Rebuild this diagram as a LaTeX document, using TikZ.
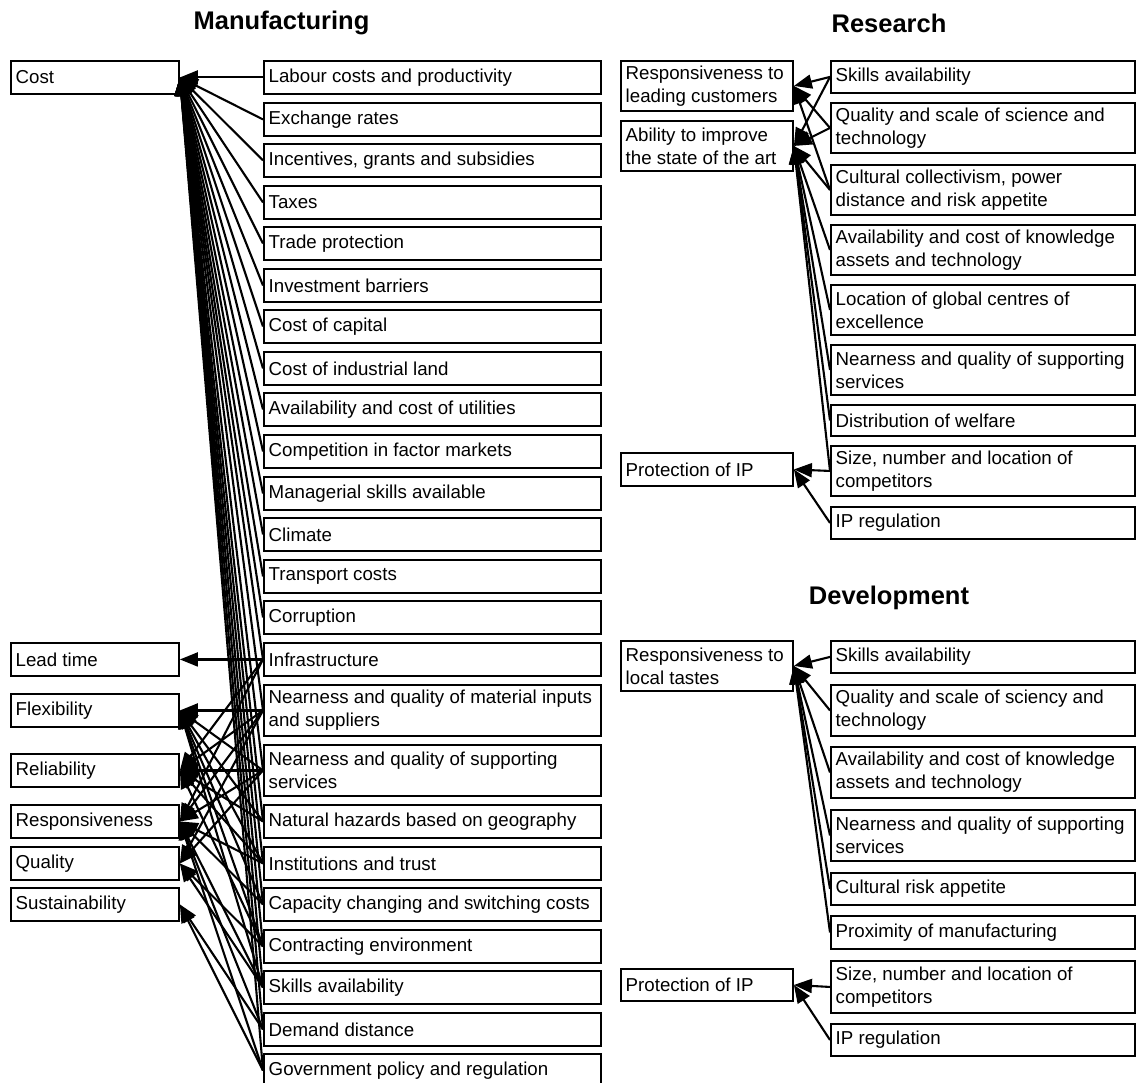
\documentclass[tikz,border=0pt]{standalone}
\usepackage{fontspec}
\setmainfont{Liberation Sans}
\usetikzlibrary{arrows.meta}
\begin{document}
\begin{tikzpicture}[x=1pt,y=-1pt,
  box/.style={draw,line width=1.9pt,inner sep=0pt,anchor=north west},
  lbl/.style={anchor=west,align=left,inner sep=0pt,font=\fontsize{18.7}{23}\selectfont},
  ttl/.style={font=\fontsize{25.5}{30}\selectfont\bfseries},
  arr/.style={line width=2.1pt,-{Triangle[length=18pt,width=14pt]}}]
\useasboundingbox (0,0) rectangle (1138,1083);
\newcommand\bx[6]{%
  \node[box,minimum width=#3pt,minimum height=#4pt] (#1) at (#2) {};
  \node[lbl] (#1-t) at ([xshift=5.5pt]#1.west) {#5};}
% titles
\node[ttl] (tm) at (281.5,23) {Manufacturing};
\node[ttl] (tr) at (889,23) {Research};
\node[ttl] (td) at (889,598) {Development};
% manufacturing left
\bx{cost}{10,60}{168}{33}{Cost}{}
\bx{lead}{10,642}{168}{33}{Lead time}{}
\bx{flex}{10,693}{168}{33}{Flexibility}{}
\bx{rel}{10,753}{168}{33}{Reliability}{}
\bx{resp}{10,804}{168}{33}{Responsiveness}{}
\bx{qual}{10,846}{168}{33}{Quality}{}
\bx{sust}{10,887}{168}{33}{Sustainability}{}
% manufacturing right
\bx{f1}{263,60}{337}{33}{Labour costs and productivity}{}
\bx{f2}{263,102}{337}{33}{Exchange rates}{}
\bx{f3}{263,143}{337}{33}{Incentives, grants and subsidies}{}
\bx{f4}{263,185}{337}{33}{Taxes}{}
\bx{f5}{263,226}{337}{33}{Trade protection}{}
\bx{f6}{263,268}{337}{33}{Investment barriers}{}
\bx{f7}{263,309}{337}{33}{Cost of capital}{}
\bx{f8}{263,351}{337}{33}{Cost of industrial land}{}
\bx{f9}{263,392}{337}{33}{Availability and cost of utilities}{}
\bx{f10}{263,434}{337}{33}{Competition in factor markets}{}
\bx{f11}{263,476}{337}{33}{Managerial skills available}{}
\bx{f12}{263,517}{337}{33}{Climate}{}
\bx{f13}{263,559}{337}{33}{Transport costs}{}
\bx{f14}{263,600}{337}{33}{Corruption}{}
\bx{f15}{263,642}{337}{33}{Infrastructure}{}
\bx{f16}{263,684}{337}{51}{Nearness and quality of material inputs\\and suppliers}{}
\bx{f17}{263,744}{337}{51}{Nearness and quality of supporting\\services}{}
\bx{f18}{263,804}{337}{33}{Natural hazards based on geography}{}
\bx{f19}{263,846}{337}{33}{Institutions and trust}{}
\bx{f20}{263,887}{337}{33}{Capacity changing and switching costs}{}
\bx{f21}{263,929}{337}{33}{Contracting environment}{}
\bx{f22}{263,970}{337}{33}{Skills availability}{}
\bx{f23}{263,1012}{337}{33}{Demand distance}{}
\bx{f24}{263,1053}{337}{33}{Government policy and regulation}{}
% research
\bx{r1}{620,60}{172}{50}{Responsiveness to\\leading customers}{}
\bx{r2}{620,120}{172}{50}{Ability to improve\\the state of the art}{}
\bx{r3}{620,452}{172}{33}{Protection of IP}{}
\bx{s1}{830,60}{304}{32}{Skills availability}{}
\bx{s2}{830,102}{304}{50}{Quality and scale of science and\\technology}{}
\bx{s3}{830,164}{304}{50}{Cultural collectivism, power\\distance and risk appetite}{}
\bx{s4}{830,224}{304}{50}{Availability and cost of knowledge\\assets and technology}{}
\bx{s5}{830,284}{304}{50}{Location of global centres of\\excellence}{}
\bx{s6}{830,344}{304}{50}{Nearness and quality of supporting\\services}{}
\bx{s7}{830,404}{304}{31}{Distribution of welfare}{}
\bx{s8}{830,445}{304}{50}{Size, number and location of\\competitors}{}
\bx{s9}{830,506}{304}{32}{IP regulation}{}
% development
\bx{d1}{620,640}{172}{50}{Responsiveness to\\local tastes}{}
\bx{d2}{620,968}{172}{32}{Protection of IP}{}
\bx{t1}{830,640}{304}{32}{Skills availability}{}
\bx{t2}{830,684}{304}{51}{Quality and scale of sciency and\\technology}{}
\bx{t3}{830,746}{304}{51}{Availability and cost of knowledge\\assets and technology}{}
\bx{t4}{830,809}{304}{51}{Nearness and quality of supporting\\services}{}
\bx{t5}{830,872}{304}{32}{Cultural risk appetite}{}
\bx{t6}{830,915}{304}{33}{Proximity of manufacturing}{}
\bx{t7}{830,960}{304}{52}{Size, number and location of\\competitors}{}
\bx{t8}{830,1023}{304}{32}{IP regulation}{}
% manufacturing connectors: all factors -> cost
\foreach \i in {1,...,24} {\draw[arr] (f\i.west) -- (cost.east);}
\foreach \s/\d in {f15/lead,f15/rel,f15/resp,
  f16/flex,f16/rel,f16/resp,f16/qual,
  f17/flex,f17/rel,f17/resp,f17/qual,
  f18/flex,f18/rel,
  f19/flex,f19/rel,f19/resp,
  f20/flex,f20/resp,
  f21/flex,f21/rel,f21/qual,
  f22/flex,f22/resp,f22/qual,
  f23/resp,f23/sust,
  f24/resp,f24/sust}
  {\draw[arr] (\s.west) -- (\d.east);}
% research connectors
\foreach \s/\d in {s1/r1,s2/r1,s3/r1,s1/r2,s2/r2,s3/r2,s4/r2,s5/r2,s6/r2,s7/r2,s8/r2,s8/r3,s9/r3}
  {\draw[arr] (\s.west) -- (\d.east);}
% development connectors
\foreach \s/\d in {t1/d1,t2/d1,t3/d1,t4/d1,t5/d1,t6/d1,t7/d2,t8/d2}
  {\draw[arr] (\s.west) -- (\d.east);}
\end{tikzpicture}
\end{document}
